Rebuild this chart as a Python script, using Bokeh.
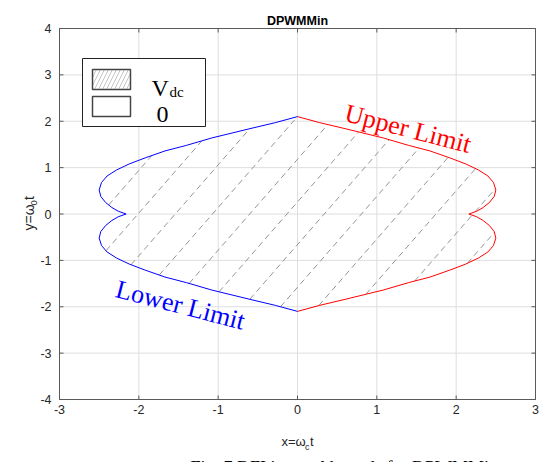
import numpy as np
from bokeh.plotting import figure
from bokeh.models import Label, Range1d
from bokeh.core.properties import value
from bokeh.embed import file_html
from bokeh.resources import INLINE

# ---- data ----
title_text = "DPWMMin"
caption_text = "Fig. 7 DFI integral bounds for DPWMMin"
x_ticks = [-3, -2, -1, 0, 1, 2, 3]
y_ticks = [-4, -3, -2, -1, 0, 1, 2, 3, 4]
x_tick_labels = ["-3", "-2", "-1", "0", "1", "2", "3"]
y_tick_labels = ["-4", "-3", "-2", "-1", "0", "1", "2", "3", "4"]

upper_x = [0.00, 0.28, 0.60, 1.08, 1.40, 1.67, 1.92, 2.12, 2.28, 2.40, 2.47, 2.50,
           2.48, 2.42, 2.34, 2.26, 2.16, 2.26, 2.34, 2.42, 2.48, 2.50, 2.47, 2.40,
           2.28, 2.12, 1.92, 1.67, 1.40, 1.08, 0.60, 0.28, 0.00]
upper_y = [2.10, 1.97, 1.84, 1.64, 1.48, 1.36, 1.21, 1.08, 0.95, 0.82, 0.68, 0.52,
           0.38, 0.25, 0.14, 0.06, 0.00, -0.06, -0.14, -0.25, -0.38, -0.52, -0.68, -0.82,
           -0.95, -1.08, -1.21, -1.36, -1.48, -1.64, -1.84, -1.97, -2.10]
lower_x = [-0.00, -0.28, -0.60, -1.08, -1.40, -1.67, -1.92, -2.12, -2.28, -2.40, -2.47, -2.50,
           -2.48, -2.42, -2.34, -2.26, -2.16, -2.26, -2.34, -2.42, -2.48, -2.50, -2.47, -2.40,
           -2.28, -2.12, -1.92, -1.67, -1.40, -1.08, -0.60, -0.28, -0.00]
lower_y = [2.10, 1.97, 1.84, 1.64, 1.48, 1.36, 1.21, 1.08, 0.95, 0.82, 0.68, 0.52,
           0.38, 0.25, 0.14, 0.06, 0.00, -0.06, -0.14, -0.25, -0.38, -0.52, -0.68, -0.82,
           -0.95, -1.08, -1.21, -1.36, -1.48, -1.64, -1.84, -1.97, -2.10]

# ---- layout: axes box position in canvas pixels ----
L, R, T, B = 59, 535, 28, 399
W, H = 546, 462
XMIN, XMAX, YMIN, YMAX = x_ticks[0], x_ticks[-1], y_ticks[0], y_ticks[-1]


def X(px):
    return XMIN + (px - L) * (XMAX - XMIN) / (R - L)


def Y(py):
    return YMAX - (py - T) * (YMAX - YMIN) / (B - T)


p = figure(width=W, height=H, output_backend="svg", toolbar_location=None,
           x_range=Range1d(X(0), X(W)), y_range=Range1d(Y(H), Y(0)),
           x_axis_type=None, y_axis_type=None,
           min_border_left=0, min_border_right=0, min_border_top=0, min_border_bottom=0)
p.outline_line_color = None
p.background_fill_color = "white"
p.border_fill_color = "white"

axis_col = "#5a5a5a"
lab_col = "#262626"
nx, ny = len(x_ticks), len(y_ticks)

# grid
p.segment(x0=x_ticks, x1=x_ticks, y0=[YMIN] * nx, y1=[YMAX] * nx, line_color="#dedede", line_width=1)
p.segment(x0=[XMIN] * ny, x1=[XMAX] * ny, y0=y_ticks, y1=y_ticks, line_color="#dedede", line_width=1)

# ---- dashed hatching inside the region ----
uy = np.array(upper_y)[::-1]
ux = np.array(upper_x)[::-1]
ly = np.array(lower_y)[::-1]
lx = np.array(lower_x)[::-1]
ymin, ymax = min(upper_y), max(upper_y)
slope = 1.96
spacing = 0.92
c0 = max(upper_y)
xs_s = np.linspace(-2.8, 2.8, 4001)
hx, hy = [], []
for k in range(-12, 13):
    c = c0 + k * spacing
    ys = slope * xs_s + c
    inside = (ys >= ymin) & (ys <= ymax) & (xs_s <= np.interp(ys, uy, ux)) & (xs_s >= np.interp(ys, ly, lx))
    if not inside.any():
        continue
    idx = np.where(inside)[0]
    breaks = np.where(np.diff(idx) > 1)[0]
    starts = np.concatenate([[idx[0]], idx[breaks + 1]])
    ends = np.concatenate([idx[breaks], [idx[-1]]])
    for s, e in zip(starts, ends):
        if e > s:
            hx.append([xs_s[s], xs_s[e]])
            hy.append([ys[s], ys[e]])
p.multi_line(hx, hy, line_color="#959595", line_width=1, line_dash="6 4")

# ---- limit curves ----
p.line(upper_x, upper_y, line_color="#ff0000", line_width=1)
p.line(lower_x, lower_y, line_color="#0000ff", line_width=1)

# ---- axes box, inward ticks on all four sides, tick labels ----
p.quad(left=[XMIN], right=[XMAX], bottom=[YMIN], top=[YMAX], fill_color=None,
       line_color=axis_col, line_width=1)
tx = 4 * (XMAX - XMIN) / (R - L)
ty = 4 * (YMAX - YMIN) / (B - T)
p.segment(x0=x_ticks, x1=x_ticks, y0=[YMAX] * nx, y1=[YMAX - ty] * nx, line_color=axis_col)
p.segment(x0=x_ticks, x1=x_ticks, y0=[YMIN] * nx, y1=[YMIN + ty] * nx, line_color=axis_col)
p.segment(x0=[XMAX] * ny, x1=[XMAX - tx] * ny, y0=y_ticks, y1=y_ticks, line_color=axis_col)
p.segment(x0=[XMIN] * ny, x1=[XMIN + tx] * ny, y0=y_ticks, y1=y_ticks, line_color=axis_col)

p.text(x=x_ticks, y=[Y(B + 5)] * nx, text=x_tick_labels, text_font=value("Liberation Sans"),
       text_font_size="12.5px", text_color=lab_col, text_align="center", text_baseline="top")
p.text(x=[X(L - 8)] * ny, y=y_ticks, text=y_tick_labels, text_font=value("Liberation Sans"),
       text_font_size="12.5px", text_color=lab_col, text_align="right", text_baseline="middle")

ang = -14.5 * np.pi / 180
p.add_layout(Label(x=X(345), y=Y(112), text="Upper Limit", angle=ang,
                   text_font="Liberation Serif", text_font_size="26px",
                   text_color="#ff0000", text_baseline="alphabetic", text_align="left"))
p.add_layout(Label(x=X(116), y=Y(288), text="Lower Limit", angle=ang,
                   text_font="Liberation Serif", text_font_size="26px",
                   text_color="#0000ff", text_baseline="alphabetic", text_align="left"))

# ---- legend (drawn by hand) ----
p.quad(left=[X(82)], right=[X(205)], top=[Y(58)], bottom=[Y(126)],
       fill_color="white", line_color="#222222", line_width=1)
p.quad(left=[X(92)], right=[X(130)], top=[Y(69)], bottom=[Y(89)],
       fill_color="white", line_color="#444444", line_width=1.5,
       hatch_pattern="/", hatch_color="#c4c4c4", hatch_scale=8, hatch_weight=1)
p.quad(left=[X(92)], right=[X(130)], top=[Y(96)], bottom=[Y(116)],
       fill_color="white", line_color="#444444", line_width=1.5)


def lab(px, py, text, size, font="Liberation Sans", **kw):
    p.add_layout(Label(x=X(px), y=Y(py), text=text, text_font=font, text_font_size=size,
                       text_baseline=kw.pop("text_baseline", "alphabetic"), **kw))


lab(151, 87, "V", "24px", font="Liberation Serif", text_color="black")
lab(169, 91, "dc", "15px", font="Liberation Serif", text_color="black")
lab(156, 114, "0", "24px", font="Liberation Serif", text_color="black")

# ---- title, axis labels, caption ----
lab(297, 20, title_text, "12.5px", text_font_style="bold", text_color="black", text_align="center")

lab(281, 441, "x=ω", "13px", text_color=lab_col)
lab(304.5, 446, "c", "9px", text_color=lab_col)
lab(309.5, 441, "t", "13px", text_color=lab_col)

lab(28, 230, "y=ω", "14px", angle=np.pi / 2, text_color=lab_col)
lab(33, 205, "0", "9.5px", angle=np.pi / 2, text_color=lab_col)
lab(28, 199.5, "t", "14px", angle=np.pi / 2, text_color=lab_col)

lab(190, 467, caption_text, "18px", font="Liberation Serif", text_color="black")

open("out.html", "w").write(file_html(p, INLINE))
